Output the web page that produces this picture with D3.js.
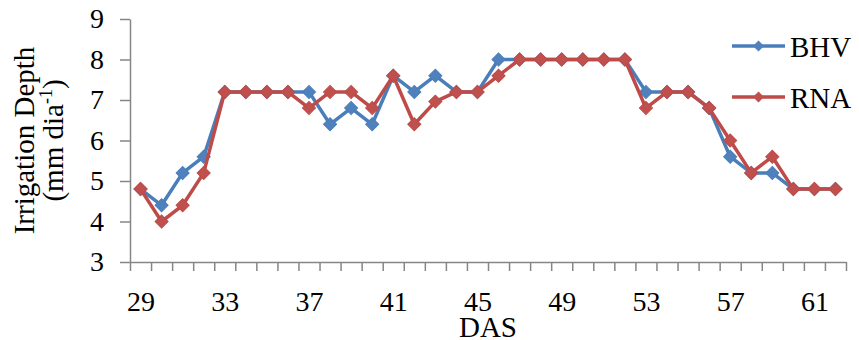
<!DOCTYPE html>
<html>
<head>
<meta charset="utf-8">
<script src="https://cdn.jsdelivr.net/npm/d3@7"></script>
<style>
  html, body { margin: 0; padding: 0; background: #fff; }
  svg text { font-family: "Times New Roman", "Liberation Serif", Tinos, "DejaVu Serif", serif; }
</style>
</head>
<body>
<div id="chart"></div>
<script>
// days after sowing
const days = d3.range(29, 63);
const bhv = [4.8, 4.4, 5.2, 5.6, 7.2, 7.2, 7.2, 7.2, 7.2, 6.4, 6.8, 6.4, 7.6, 7.2, 7.6, 7.2, 7.2,
  8.0, 8.0, 8.0, 8.0, 8.0, 8.0, 8.0, 7.2, 7.2, 7.2, 6.8, 5.6, 5.2, 5.2, 4.8, 4.8, 4.8];
const rna = [4.8, 4.0, 4.4, 5.2, 7.2, 7.2, 7.2, 7.2, 6.8, 7.2, 7.2, 6.8, 7.6, 6.4, 6.96, 7.2, 7.2,
  7.6, 8.0, 8.0, 8.0, 8.0, 8.0, 8.0, 6.8, 7.2, 7.2, 6.8, 6.0, 5.2, 5.6, 4.8, 4.8, 4.8];
const xLabels = [29, 33, 37, 41, 45, 49, 53, 57, 61];
const yTicks = [3, 4, 5, 6, 7, 8, 9];

const series = [
  { name: "BHV", values: bhv, line: "#4a7ebb", fill: "#4f81bd" },
  { name: "RNA", values: rna, line: "#be4b48", fill: "#c0504d" },
];

const width = 859, height = 340;
const margin = { top: 19, right: 13, bottom: 78, left: 130 };

const svg = d3.select("#chart").append("svg")
  .attr("width", width)
  .attr("height", height);

const x = d3.scaleLinear()
  .domain([days[0] - 0.5, days[days.length - 1] + 0.5])
  .range([margin.left, width - margin.right]);

const y = d3.scaleLinear()
  .domain([3, 9])
  .range([height - margin.bottom, margin.top]);

const axisColor = "#868686";

// y axis
const yAxis = svg.append("g")
  .attr("transform", `translate(${margin.left},0)`)
  .call(d3.axisLeft(y).tickValues(yTicks).tickFormat(d3.format("d"))
    .tickSize(10).tickSizeOuter(0).tickPadding(16));
yAxis.attr("font-family", null);
yAxis.selectAll("line, path").attr("stroke", axisColor).attr("stroke-width", 1.5);
yAxis.selectAll("text").attr("font-size", 28).attr("fill", "#000");

// x axis tick marks sit between the categories
const edges = d3.range(days[0] - 0.5, days[days.length - 1] + 1, 1);
const xAxis = svg.append("g")
  .attr("transform", `translate(0,${height - margin.bottom})`)
  .call(d3.axisBottom(x).tickValues(edges).tickFormat("").tickSize(9).tickSizeOuter(0));
xAxis.selectAll("line, path").attr("stroke", axisColor).attr("stroke-width", 1.5);

const xLab = svg.append("g")
  .attr("transform", `translate(0,${height - margin.bottom})`)
  .call(d3.axisBottom(x).tickValues(xLabels).tickFormat(d3.format("d")).tickSize(0).tickPadding(29));
xLab.attr("font-family", null);
xLab.select(".domain").remove();
xLab.selectAll("text").attr("font-size", 28).attr("fill", "#000");

// axis titles
svg.append("text")
  .attr("x", (x.range()[0] + x.range()[1]) / 2)
  .attr("y", 337)
  .attr("text-anchor", "middle")
  .attr("font-size", 29)
  .text("DAS");

const yTitle = svg.append("g")
  .attr("transform", `translate(0,${(y.range()[0] + y.range()[1]) / 2}) rotate(-90)`);
yTitle.append("text")
  .attr("x", 0)
  .attr("y", 34)
  .attr("text-anchor", "middle")
  .attr("font-size", 29)
  .text("Irrigation Depth");
const t2 = yTitle.append("text")
  .attr("x", 0)
  .attr("y", 63)
  .attr("text-anchor", "middle")
  .attr("font-size", 29);
t2.append("tspan").text("(mm dia");
t2.append("tspan").attr("font-size", 18).attr("dy", -11).text("-1");
t2.append("tspan").attr("dy", 11).text(")");

// lines and markers
const line = d3.line()
  .x((d, i) => x(days[i]))
  .y((d) => y(d));

const diamond = d3.symbol().type(d3.symbolSquare).size(85);

series.forEach((s) => {
  const g = svg.append("g").attr("class", "series");
  g.append("path")
    .datum(s.values)
    .attr("fill", "none")
    .attr("stroke", s.line)
    .attr("stroke-width", 3.5)
    .attr("stroke-linejoin", "round")
    .attr("d", line);
  g.selectAll("path.marker")
    .data(s.values)
    .enter()
    .append("path")
    .attr("class", "marker")
    .attr("d", diamond)
    .attr("fill", s.fill)
    .attr("stroke", s.line)
    .attr("stroke-width", 1)
    .attr("transform", (d, i) => `translate(${x(days[i])},${y(d)}) rotate(45)`);
});

// legend
const legend = svg.append("g").attr("transform", "translate(732,46)");
series.forEach((s, i) => {
  const row = legend.append("g").attr("transform", `translate(0,${i * 51})`);
  row.append("line")
    .attr("x1", 0).attr("x2", 53)
    .attr("stroke", s.line)
    .attr("stroke-width", 3.5);
  row.append("path")
    .attr("d", d3.symbol().type(d3.symbolSquare).size(60))
    .attr("fill", s.fill)
    .attr("transform", "translate(26.5,0) rotate(45)");
  row.append("text")
    .attr("x", 58)
    .attr("y", 11)
    .attr("font-size", 29)
    .text(s.name);
});
</script>
</body>
</html>
